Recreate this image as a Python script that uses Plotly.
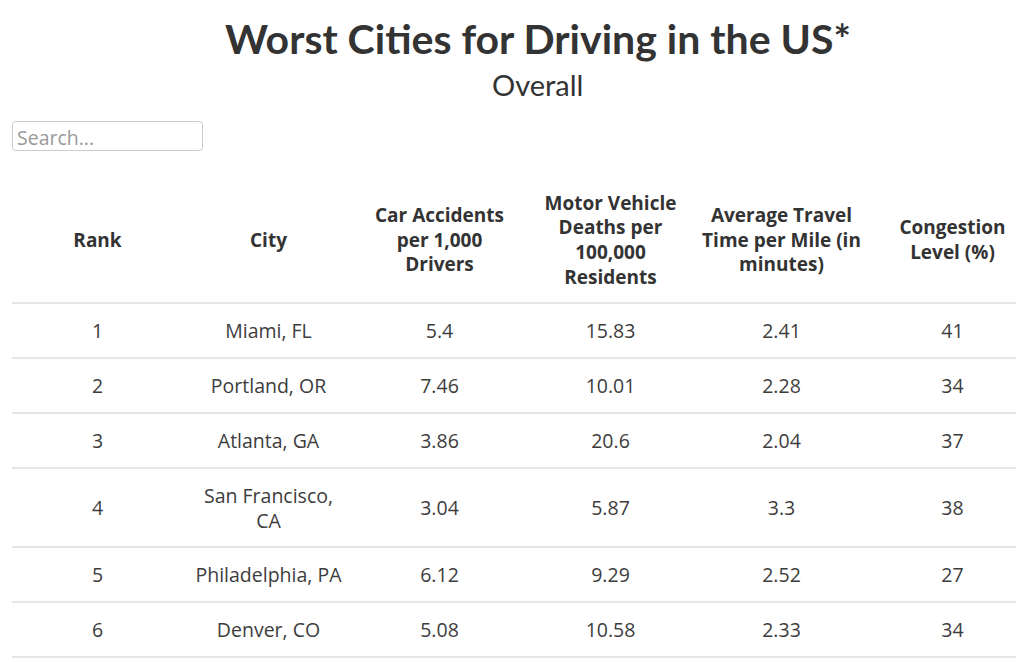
import textwrap
import plotly.graph_objects as go

# ---------------- data ----------------
title = "Worst Cities for Driving in the US*"
subtitle = "Overall"
headers = [
    "Rank",
    "City",
    "Car Accidents<br>per 1,000<br>Drivers",
    "Motor Vehicle<br>Deaths per<br>100,000<br>Residents",
    "Average Travel<br>Time per Mile (in<br>minutes)",
    "Congestion<br>Level (%)",
]
ranks = [1, 2, 3, 4, 5, 6]
cities = ["Miami, FL", "Portland, OR", "Atlanta, GA", "San Francisco, CA",
          "Philadelphia, PA", "Denver, CO"]
car_accidents = [5.4, 7.46, 3.86, 3.04, 6.12, 5.08]
vehicle_deaths = [15.83, 10.01, 20.6, 5.87, 9.29, 10.58]
travel_time = [2.41, 2.28, 2.04, 3.3, 2.52, 2.33]
congestion = [41, 34, 37, 38, 27, 34]

# ---------------- layout / style ----------------
W, H = 1024, 662
OFF = 8  # page body margin: axis ranges shifted so data units == screen pixels
TABLE_LEFT = 12
COL_W = 171
HEADER_MID = 242
HEADER_BOTTOM = 303
ROW_H = 55
LINE_H = 24
TEXT_NUDGE = 3
TEXT_COLOR = "#3d3d3d"
HEAD_COLOR = "#333333"
RULE_COLOR = "#e6e6e6"
TITLE_FONT = "Lato"
HEAD_FONT = "Open Sans"
BODY_FONT = "Open Sans"

city_text = ["<br>".join(textwrap.wrap(c, 16)) for c in cities]
columns = [
    [str(v) for v in ranks],
    city_text,
    [str(v) for v in car_accidents],
    [str(v) for v in vehicle_deaths],
    [str(v) for v in travel_time],
    [str(v) for v in congestion],
]
ncols = len(headers)
col_x = [TABLE_LEFT + COL_W * (i + 0.5) for i in range(ncols)]

# row geometry from number of text lines per row
n_lines = [max(col[r].count("<br>") + 1 for col in columns) for r in range(len(ranks))]
row_edges = [HEADER_BOTTOM]
for n in n_lines:
    row_edges.append(row_edges[-1] + ROW_H + LINE_H * (n - 1))
row_mid = [(row_edges[i] + row_edges[i + 1]) / 2 + TEXT_NUDGE for i in range(len(ranks))]

fig = go.Figure()

# header
fig.add_trace(go.Scatter(
    x=col_x, y=[HEADER_MID] * ncols, mode="text", text=headers,
    textposition="middle center",
    textfont=dict(family=HEAD_FONT, size=19, color=HEAD_COLOR, weight="bold"),
    hoverinfo="skip", showlegend=False,
))

# body
for ci, col in enumerate(columns):
    fig.add_trace(go.Scatter(
        x=[col_x[ci]] * len(col), y=row_mid, mode="text", text=col,
        textposition="middle center",
        textfont=dict(family=BODY_FONT, size=19.5, color=TEXT_COLOR),
        hoverinfo="skip", showlegend=False,
    ))

shapes = []
for yv in row_edges:
    shapes.append(dict(type="line", xref="x", yref="y", x0=TABLE_LEFT, x1=W + 40,
                       y0=yv, y1=yv, line=dict(color=RULE_COLOR, width=2)))

# search box (rounded rectangle)
bx0, bx1, by0, by1, r = 12.5, 202.5, 121.5, 150.5, 3
path = (f"M{bx0 + r},{by0} L{bx1 - r},{by0} Q{bx1},{by0} {bx1},{by0 + r} "
        f"L{bx1},{by1 - r} Q{bx1},{by1} {bx1 - r},{by1} L{bx0 + r},{by1} "
        f"Q{bx0},{by1} {bx0},{by1 - r} L{bx0},{by0 + r} Q{bx0},{by0} {bx0 + r},{by0} Z")
shapes.append(dict(type="path", xref="x", yref="y", path=path,
                   line=dict(color="#cccccc", width=1), fillcolor="white"))

annotations = [
    dict(x=538, y=38, xref="x", yref="y", text=f"<b>{title}</b>", showarrow=False,
         font=dict(family=TITLE_FONT, size=41, color=HEAD_COLOR),
         xanchor="center", yanchor="middle"),
    dict(x=537, y=84, xref="x", yref="y", text=subtitle, showarrow=False,
         font=dict(family=TITLE_FONT, size=29, color=HEAD_COLOR),
         xanchor="center", yanchor="middle"),
    dict(x=15, y=137, xref="x", yref="y", text="Search...", showarrow=False,
         font=dict(family=BODY_FONT, size=19.5, color="#9a9a9a"),
         xanchor="left", yanchor="middle"),
]

fig.update_layout(
    width=W, height=H,
    margin=dict(l=0, r=0, t=0, b=0),
    paper_bgcolor="white", plot_bgcolor="white",
    xaxis=dict(range=[OFF, W + OFF], visible=False, fixedrange=True),
    yaxis=dict(range=[H + OFF, OFF], visible=False, fixedrange=True),
    shapes=shapes, annotations=annotations,
    showlegend=False,
)

fig.write_html("out.html", config={"displayModeBar": False})
